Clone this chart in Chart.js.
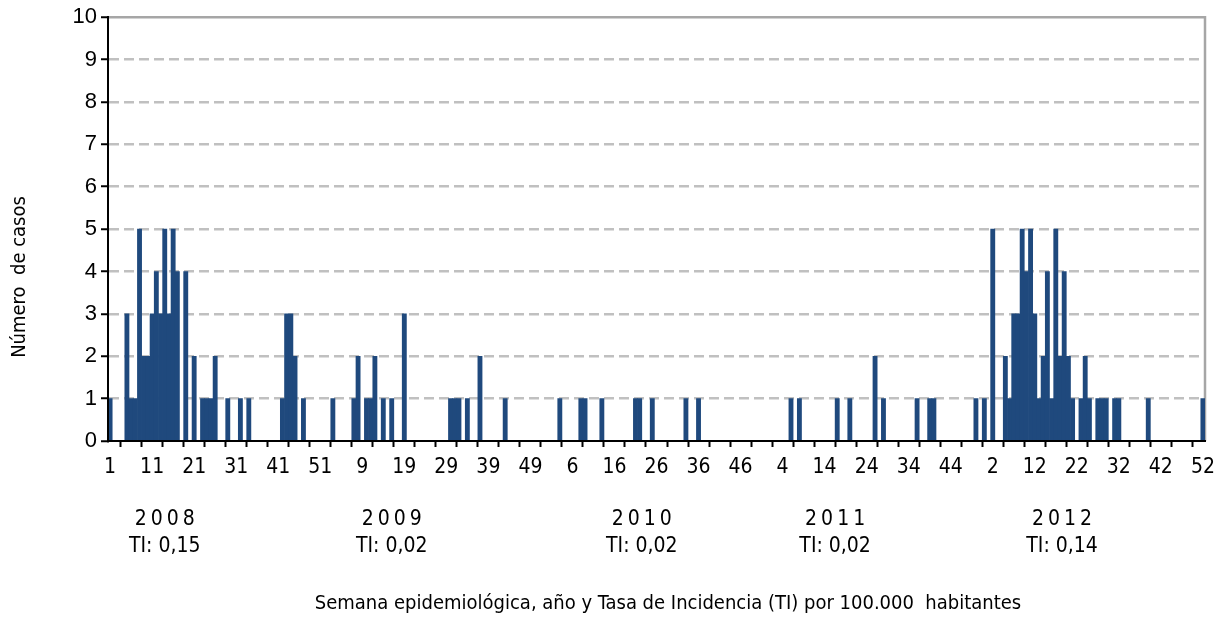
<!DOCTYPE html>
<html>
<head>
<meta charset="utf-8">
<script src="https://cdn.jsdelivr.net/npm/chart.js@4.4.0/dist/chart.umd.min.js"></script>
<style>
  html, body { margin: 0; padding: 0; background: #fff; }
  #wrap { width: 1218px; height: 617px; }
</style>
</head>
<body>
<div id="wrap"><canvas id="grafico" width="1218" height="617"></canvas></div>
<script>
// casos por semana epidemiologica, un arreglo por año
var anios = ['2008', '2009', '2010', '2011', '2012'];
var tasas = ['0,15', '0,02', '0,02', '0,02', '0,14'];

var casos2008 = [1,0,0,0,3,1,1,5,2,2, 3,4,3,5,3,5,4,0,4,0, 2,0,1,1,1,2,0,0,1,0,
                 0,1,0,1,0,0,0,0,0,0, 0,1,3,3,2,0,1,0,0,0, 0,0];
var casos2009 = [0,1,0,0,0,0,1,2,0,1, 1,2,0,1,0,1,0,0,3,0, 0,0,0,0,0,0,0,0,0,1,
                 1,1,0,1,0,0,2,0,0,0, 0,0,1,0,0,0,0,0,0,0, 0,0,0];
var casos2010 = [0,0,1,0,0,0,0,1,1,0, 0,0,1,0,0,0,0,0,0,0, 1,1,0,0,1,0,0,0,0,0,
                 0,0,1,0,0,1,0,0,0,0, 0,0,0,0,0,0,0,0,0,0, 0,0];
var casos2011 = [0,0,0,0,0,1,0,1,0,0, 0,0,0,0,0,0,1,0,0,1, 0,0,0,0,0,2,0,1,0,0,
                 0,0,0,0,0,1,0,0,1,1, 0,0,0,0,0,0,0,0,0,1, 0,1];
var casos2012 = [0,5,0,0,2,1,3,3,5,4, 5,3,1,2,4,1,5,2,4,2, 1,0,1,2,1,0,1,1,1,0,
                 1,1,0,0,0,0,0,0,1,0, 0,0,0,0,0,0,0,0,0,0, 0,1];

var tituloX = 'Semana epidemiológica, año y Tasa de Incidencia (TI) por 100.000  habitantes';
var tituloY = 'Número  de casos';

var porAnio = [casos2008, casos2009, casos2010, casos2011, casos2012];
var semanas = [];
var casos = [];
porAnio.forEach(function (serie) {
  serie.forEach(function (v, i) {
    semanas.push(String(i + 1));
    casos.push(v);
  });
});

var estrecha = "'Liberation Sans Narrow', 'DejaVu Sans Condensed', 'Arial Narrow', sans-serif";

// marco gris arriba y a la derecha
var marco = {
  id: 'marco',
  beforeDatasetsDraw: function (chart) {
    var a = chart.chartArea, ctx = chart.ctx;
    ctx.save();
    ctx.strokeStyle = '#a6a6a6';
    ctx.lineWidth = 2.5;
    ctx.beginPath();
    ctx.moveTo(a.left, a.top);
    ctx.lineTo(a.right, a.top);
    ctx.lineTo(a.right, a.bottom);
    ctx.stroke();
    ctx.restore();
  }
};

// años, tasas y titulos de los ejes
var textos = {
  id: 'textos',
  afterDraw: function (chart) {
    var ctx = chart.ctx, x = chart.scales.x;
    var anclas = [13, 67, 126.5, 172.5, 226.5];
    ctx.save();
    ctx.fillStyle = '#000';
    ctx.textAlign = 'center';
    ctx.textBaseline = 'middle';
    anios.forEach(function (a, i) {
      var px = x.getPixelForValue(anclas[i]);
      ctx.font = '21px ' + estrecha;
      ctx.letterSpacing = '4px';
      ctx.fillText(a, px + 2, 520);
      ctx.letterSpacing = '0px';
      ctx.fillText('TI: ' + tasas[i], px, 547);
    });
    ctx.font = '20px ' + estrecha;
    ctx.letterSpacing = '0px';
    ctx.fillText(tituloX, 668, 604);
    ctx.translate(20, 277);
    ctx.rotate(-Math.PI / 2);
    ctx.fillText(tituloY, 0, 0);
    ctx.restore();
  }
};

new Chart(document.getElementById('grafico'), {
  type: 'bar',
  data: {
    labels: semanas,
    datasets: [{
      data: casos,
      backgroundColor: '#1F497D',
      borderWidth: 0,
      barPercentage: 1,
      categoryPercentage: 1
    }]
  },
  options: {
    responsive: false,
    devicePixelRatio: 1,
    animation: false,
    layout: { padding: { left: 0, right: 13, top: 17, bottom: 0 } },
    plugins: { legend: { display: false }, tooltip: { enabled: false } },
    scales: {
      x: {
        offset: true,
        grid: {
          display: true,
          offset: true,
          drawOnChartArea: false,
          drawTicks: true,
          tickLength: 6,
          tickWidth: 2,
          tickColor: function (c) { return c.index % 5 === 3 ? '#000' : 'rgba(0,0,0,0)'; }
        },
        border: { display: true, color: '#000', width: 2, z: 1 },
        ticks: {
          autoSkip: false,
          maxRotation: 0,
          minRotation: 0,
          padding: 8,
          color: '#000',
          font: { family: estrecha, size: 21 },
          callback: function (v, i) { return i % 10 === 0 ? this.getLabelForValue(v) : ''; }
        },
        afterFit: function (s) {
          s.height = 176;
          s.paddingLeft = 0;
          s.paddingRight = 0;
        }
      },
      y: {
        min: 0,
        max: 10,
        ticks: {
          stepSize: 1,
          padding: 4,
          color: '#000',
          font: { family: "'Liberation Sans', Arial, sans-serif", size: 22 }
        },
        grid: {
          color: function (c) {
            var v = c.tick ? c.tick.value : -1;
            return (v === 0 || v === 10) ? 'rgba(0,0,0,0)' : '#c0c0c0';
          },
          lineWidth: 2.5,
          tickColor: '#000',
          tickLength: 7,
          tickWidth: 2
        },
        border: { display: true, color: '#000', width: 2, dash: [10, 5], z: 1 },
        afterFit: function (s) { s.width = 108; }
      }
    }
  },
  plugins: [marco, textos]
});
</script>
</body>
</html>
